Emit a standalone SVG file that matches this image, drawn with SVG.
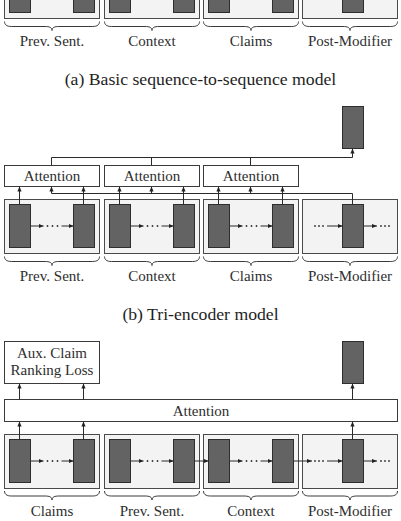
<svg xmlns="http://www.w3.org/2000/svg" width="401" height="521" viewBox="0 0 401 521">
<style>
.enc{fill:#f3f3f3;stroke:#4a4a4a;stroke-width:1}
.st{fill:#636363;stroke:#2e2e2e;stroke-width:1}
.att{fill:#fff;stroke:#3a3a3a;stroke-width:1}
.ln{fill:none;stroke:#2a2a2a;stroke-width:1}
.arr{fill:none;stroke:#2a2a2a;stroke-width:1;marker-end:url(#ah)}
.br{fill:none;stroke:#3a3a3a;stroke-width:1}
.dot{fill:#333}
.lab{font-family:"Liberation Serif",serif;font-size:15px;fill:#2e2e2e;text-anchor:middle}
.cap{font-family:"Liberation Serif",serif;font-size:17.7px;fill:#1e1e1e;text-anchor:middle}
</style>
<defs>
<marker id="ah" markerWidth="6" markerHeight="6" refX="5" refY="3" orient="auto" markerUnits="userSpaceOnUse"><path d="M0,0.9 L5,3 L0,5.1 z" fill="#222"/></marker>
<g id="brace95"><path class="br" d="M0,0 C0,3 2,5 7,5 L40.5,5 C45,5 47.5,6 47.5,9 C47.5,6 50,5 54.5,5 L88,5 C93,5 95,3 95,0"/></g>
</defs>

<!-- (a) -->
<g id="a-prev"><rect class="enc" x="4.5" y="-35.5" width="95" height="54"/><rect class="st" x="9.5" y="-30.5" width="21" height="43"/><rect class="st" x="73.5" y="-30.5" width="21" height="43"/></g>
<g id="a-ctx"><rect class="enc" x="104.5" y="-35.5" width="95" height="54"/><rect class="st" x="109.5" y="-30.5" width="21" height="43"/><rect class="st" x="173.5" y="-30.5" width="21" height="43"/></g>
<g id="a-claims"><rect class="enc" x="203.5" y="-35.5" width="95" height="54"/><rect class="st" x="208.5" y="-30.5" width="21" height="43"/><rect class="st" x="272.5" y="-30.5" width="21" height="43"/></g>
<g id="a-post"><rect class="enc" x="302.5" y="-35.5" width="95" height="54"/><rect class="st" x="342.5" y="-30.5" width="21" height="43"/></g>
<g id="a-labels">
<use href="#brace95" x="4.5" y="21.5"/><use href="#brace95" x="104.5" y="21.5"/><use href="#brace95" x="203.5" y="21.5"/><use href="#brace95" x="302.5" y="21.5"/>
<text class="lab" x="52" y="46">Prev. Sent.</text><text class="lab" x="152" y="46">Context</text><text class="lab" x="251" y="46">Claims</text><text class="lab" x="350" y="46">Post-Modifier</text>
</g>
<text class="cap" x="200.5" y="85">(a) Basic sequence-to-sequence model</text>

<!-- (b) -->
<g id="b-out"><rect class="st" x="342.5" y="106.5" width="21" height="42"/></g>
<g id="b-att1"><rect class="att" x="4.5" y="165.5" width="95" height="21"/><text class="lab" x="52" y="181">Attention</text></g>
<g id="b-att2"><rect class="att" x="104.5" y="165.5" width="95" height="21"/><text class="lab" x="152" y="181">Attention</text></g>
<g id="b-att3"><rect class="att" x="203.5" y="165.5" width="95" height="21"/><text class="lab" x="251" y="181">Attention</text></g>
<g id="b-prev"><rect class="enc" x="4.5" y="199.5" width="95" height="54"/><rect class="st" x="9.5" y="204.5" width="21" height="43"/><rect class="st" x="73.5" y="204.5" width="21" height="43"/></g>
<g id="b-ctx"><rect class="enc" x="104.5" y="199.5" width="95" height="54"/><rect class="st" x="109.5" y="204.5" width="21" height="43"/><rect class="st" x="173.5" y="204.5" width="21" height="43"/></g>
<g id="b-claims"><rect class="enc" x="203.5" y="199.5" width="95" height="54"/><rect class="st" x="208.5" y="204.5" width="21" height="43"/><rect class="st" x="272.5" y="204.5" width="21" height="43"/></g>
<g id="b-post"><rect class="enc" x="302.5" y="199.5" width="95" height="54"/><rect class="st" x="342.5" y="204.5" width="21" height="43"/></g>
<g id="b-labels">
<use href="#brace95" x="4.5" y="256.5"/><use href="#brace95" x="104.5" y="256.5"/><use href="#brace95" x="203.5" y="256.5"/><use href="#brace95" x="302.5" y="256.5"/>
<text class="lab" x="52" y="281">Prev. Sent.</text><text class="lab" x="152" y="281">Context</text><text class="lab" x="251" y="281">Claims</text><text class="lab" x="350" y="281">Post-Modifier</text>
</g>
<text class="cap" x="200.5" y="320">(b) Tri-encoder model</text>

<!-- (c) -->
<g id="c-aux"><rect class="att" x="4.5" y="341.5" width="95" height="42"/><text class="lab" x="52" y="358">Aux. Claim</text><text class="lab" x="52" y="375">Ranking Loss</text></g>
<g id="c-out"><rect class="st" x="342.5" y="341.5" width="21" height="42"/></g>
<g id="c-att"><rect class="att" x="4.5" y="399.5" width="393" height="22"/><text class="lab" x="201" y="415.5">Attention</text></g>
<g id="c-claims"><rect class="enc" x="4.5" y="434.5" width="95" height="54"/><rect class="st" x="9.5" y="439.5" width="21" height="43"/><rect class="st" x="73.5" y="439.5" width="21" height="43"/></g>
<g id="c-prev"><rect class="enc" x="104.5" y="434.5" width="95" height="54"/><rect class="st" x="109.5" y="439.5" width="21" height="43"/><rect class="st" x="173.5" y="439.5" width="21" height="43"/></g>
<g id="c-ctx"><rect class="enc" x="203.5" y="434.5" width="95" height="54"/><rect class="st" x="208.5" y="439.5" width="21" height="43"/><rect class="st" x="272.5" y="439.5" width="21" height="43"/></g>
<g id="c-post"><rect class="enc" x="302.5" y="434.5" width="95" height="54"/><rect class="st" x="342.5" y="439.5" width="21" height="43"/></g>
<g id="c-labels">
<use href="#brace95" x="4.5" y="491"/><use href="#brace95" x="104.5" y="491"/><use href="#brace95" x="203.5" y="491"/><use href="#brace95" x="302.5" y="491"/>
<text class="lab" x="52" y="515.5">Claims</text><text class="lab" x="152" y="515.5">Prev. Sent.</text><text class="lab" x="251" y="515.5">Context</text><text class="lab" x="350" y="515.5">Post-Modifier</text>
</g>

<g id="connectors">
<!-- (b) -->
<path class="arr" d="M51.5,165.5 V157.5 H352.5 V148.5"/>
<path class="ln" d="M151.5,165.5 V157.5 M250.5,165.5 V157.5"/>
<path class="arr" d="M352.5,204.5 V193.5 H51.5 V186.5"/>
<path class="arr" d="M151.5,193.5 V186.5"/>
<path class="arr" d="M250.5,193.5 V186.5"/>
<path class="arr" d="M19.5,204.5 V186.5"/>
<path class="arr" d="M83.5,204.5 V186.5"/>
<path class="arr" d="M119.5,204.5 V186.5"/>
<path class="arr" d="M183.5,204.5 V186.5"/>
<path class="arr" d="M218.5,204.5 V186.5"/>
<path class="arr" d="M282.5,204.5 V186.5"/>
<path class="arr" d="M30.5,226 H43.5"/><path class="arr" d="M61.5,226 H73.5"/>
<path class="arr" d="M130.5,226 H143.5"/><path class="arr" d="M161.5,226 H173.5"/>
<path class="arr" d="M229.5,226 H242.5"/><path class="arr" d="M260.5,226 H272.5"/>
<path class="arr" d="M327,226 H342.5"/><path class="arr" d="M363.5,226 H377"/>
<g class="dot">
<circle cx="47.5" cy="226" r="0.9"/><circle cx="52.5" cy="226" r="0.9"/><circle cx="57.5" cy="226" r="0.9"/>
<circle cx="147.5" cy="226" r="0.9"/><circle cx="152.5" cy="226" r="0.9"/><circle cx="157.5" cy="226" r="0.9"/>
<circle cx="246.5" cy="226" r="0.9"/><circle cx="251.5" cy="226" r="0.9"/><circle cx="256.5" cy="226" r="0.9"/>
<circle cx="315" cy="226" r="0.9"/><circle cx="319" cy="226" r="0.9"/><circle cx="323" cy="226" r="0.9"/>
<circle cx="381" cy="226" r="0.9"/><circle cx="385" cy="226" r="0.9"/><circle cx="389" cy="226" r="0.9"/>
</g>
<!-- (c) -->
<path class="arr" d="M19.5,399.5 V383.5"/>
<path class="arr" d="M83.5,399.5 V383.5"/>
<path class="arr" d="M352.5,399.5 V383.5"/>
<path class="arr" d="M19.5,439.5 V421.5"/>
<path class="arr" d="M83.5,439.5 V421.5"/>
<path class="arr" d="M352.5,439.5 V421.5"/>
<path class="arr" d="M30.5,461 H43.5"/><path class="arr" d="M61.5,461 H73.5"/>
<path class="arr" d="M130.5,461 H143.5"/><path class="arr" d="M161.5,461 H173.5"/>
<path class="arr" d="M194.5,461 H208.5"/>
<path class="arr" d="M229.5,461 H242.5"/><path class="arr" d="M260.5,461 H272.5"/>
<path class="arr" d="M293.5,461 H312"/>
<path class="arr" d="M327,461 H342.5"/><path class="arr" d="M363.5,461 H377"/>
<g class="dot">
<circle cx="47.5" cy="461" r="0.9"/><circle cx="52.5" cy="461" r="0.9"/><circle cx="57.5" cy="461" r="0.9"/>
<circle cx="147.5" cy="461" r="0.9"/><circle cx="152.5" cy="461" r="0.9"/><circle cx="157.5" cy="461" r="0.9"/>
<circle cx="246.5" cy="461" r="0.9"/><circle cx="251.5" cy="461" r="0.9"/><circle cx="256.5" cy="461" r="0.9"/>
<circle cx="315" cy="461" r="0.9"/><circle cx="319" cy="461" r="0.9"/><circle cx="323" cy="461" r="0.9"/>
<circle cx="381" cy="461" r="0.9"/><circle cx="385" cy="461" r="0.9"/><circle cx="389" cy="461" r="0.9"/>
</g>
</g>
</svg>
